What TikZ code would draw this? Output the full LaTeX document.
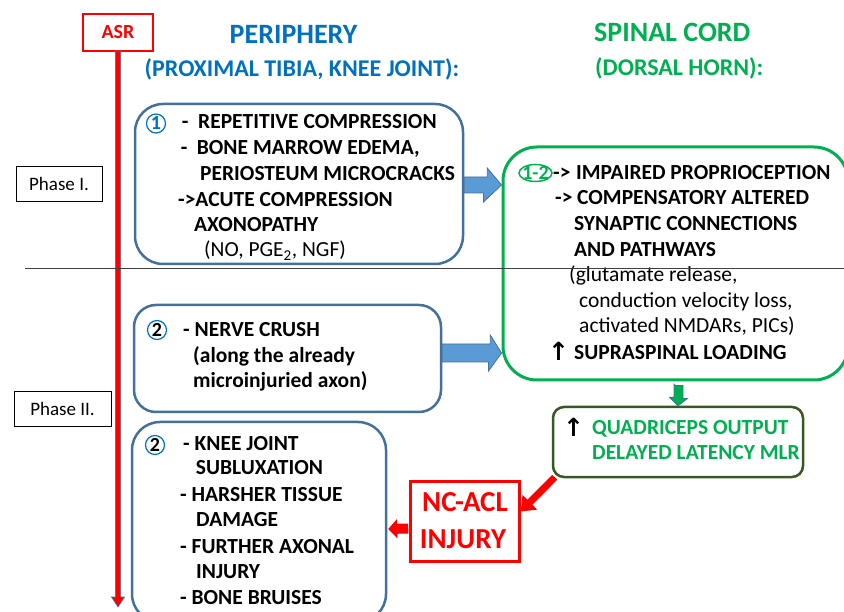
\documentclass[tikz,border=0pt]{standalone}
\usepackage{fontspec}
\setmainfont{Carlito}
\newfontfamily\symfont{DejaVu Sans}
\usetikzlibrary{arrows.meta,calc}
\definecolor{tblue}{HTML}{0070C0}
\definecolor{tgreen}{HTML}{00B050}
\definecolor{bstroke}{HTML}{41719C}
\definecolor{afill}{HTML}{5B9BD5}
\definecolor{olive}{HTML}{385723}
\definecolor{gline}{HTML}{404040}
\begin{document}
\begin{tikzpicture}[x=1pt,y=-1pt,
  tb/.style={anchor=base west, inner sep=0pt, font=\fontsize{21.5}{24}\selectfont\bfseries},
  tr/.style={anchor=base west, inner sep=0pt, font=\fontsize{21.5}{24}\selectfont},
  upar/.style={anchor=base west, inner sep=0pt, font=\fontsize{25}{28}\symfont\bfseries},
  pbox/.style={draw=bstroke, line width=2.5pt, rounded corners=#1},
  pbox/.default=28pt,
  phasebox/.style={draw=black, line width=0.8pt, fill=white},
  barrow/.style={fill=afill, draw=bstroke, line width=0.8pt},
  numc/.style={circle, draw=tblue, line width=1.2pt, inner sep=0pt, minimum size=19pt, font=\fontsize{20}{22}\selectfont\bfseries}
]
\useasboundingbox (0,0) rectangle (844,612);

% phase divider
\draw[gline, line width=1.2pt] (25,268.5) coordinate (hl) -- (844,268.5) coordinate (hr);

% ASR box and time arrow
\node[draw=red, line width=2.5pt, minimum width=70pt, minimum height=37pt, inner sep=0pt,
      text=red, font=\fontsize{20}{24}\selectfont\bfseries] (asr) at (118,32.5) {ASR};
\draw[fill=red, draw=bstroke, line width=0.6pt]
  (115.3,51) -- (120.7,51) -- (120.7,597) -- (124.5,597) -- (118,607) -- (111.5,597) -- (115.3,597) -- cycle;

% titles
\node[anchor=base west, inner sep=0pt, text=tblue, font=\fontsize{28}{30}\selectfont\bfseries] (tper) at (229.5,43.5) {PERIPHERY};
\node[anchor=base west, inner sep=0pt, text=tblue, font=\fontsize{24}{26}\selectfont\bfseries] (tper2) at (144.5,76.5) {(PROXIMAL TIBIA, KNEE JOINT):};
\node[anchor=base west, inner sep=0pt, text=tgreen, font=\fontsize{28}{30}\selectfont\bfseries] (tsc) at (594,42) {SPINAL CORD};
\node[anchor=base west, inner sep=0pt, text=tgreen, font=\fontsize{24}{26}\selectfont\bfseries] (tsc2) at (595,75.5) {(DORSAL HORN):};

% phase labels
\node[phasebox, minimum width=86pt, minimum height=35pt, inner sep=0pt, font=\fontsize{19}{22}\selectfont] (ph1) at (59,184) {Phase I.};
\node[phasebox, minimum width=97pt, minimum height=35pt, inner sep=0pt, font=\fontsize{19}{22}\selectfont] (ph2) at (62.5,409) {Phase II.};

% box 1
\node[pbox, minimum width=328pt, minimum height=160pt] (b1) at (299,184) {};
\node[numc, text=tblue] (n1) at (156,123.5) {1};
\node[tb] at (181.7,129) {-};
\node[tb] at (198,129) {REPETITIVE COMPRESSION};
\node[tb] at (180.7,155) {-};
\node[tb] at (196.7,155) {BONE MARROW EDEMA,};
\node[tb] at (200,181) {PERIOSTEUM MICROCRACKS};
\node[tb] at (178,207) {->ACUTE COMPRESSION};
\node[tb] at (194,232) {AXONOPATHY};
\node[tr] at (204,257) {(NO, PGE\textsubscript{2}, NGF)};

% spinal cord box
\node[draw=tgreen, line width=3pt, rounded corners=34pt, minimum width=345pt, minimum height=233pt] (sc) at (675.5,263.5) {};
\draw[tgreen, line width=1.5pt] (535.5,173) ellipse [x radius=16.5, y radius=8.5];
\node[anchor=base, inner sep=0pt, text=tgreen, font=\fontsize{20}{22}\selectfont\bfseries] (n12) at (535.5,179.3) {1-2};
\node[tb] at (553,179.3) {->};
\node[tb] at (576,179.3) {IMPAIRED PROPRIOCEPTION};
\node[tb] at (555,205) {->};
\node[tb] at (577,205) {COMPENSATORY ALTERED};
\node[tb] at (574,230.5) {SYNAPTIC CONNECTIONS};
\node[tb] at (574,256.5) {AND PATHWAYS};
\node[tr] at (569,281.7) {(glutamate release,};
\node[tr] at (579,308) {conduction velocity loss,};
\node[tr] at (579,333) {activated NMDARs, PICs)};
\node[upar] at (548,361) {↑};
\node[tb] at (574,360) {SUPRASPINAL LOADING};

% redraw divider over green box
\draw[gline, line width=1.2pt] (hl) -- (hr);

% box 2a
\node[pbox=22pt, minimum width=307pt, minimum height=107pt] (b2a) at (287.5,358.5) {};
\node[numc, text=black] (n2a) at (157,330) {2};
\node[tb] at (183,336.7) {- NERVE CRUSH};
\node[tb] at (193,363) {(along the already};
\node[tb] at (193,388) {microinjuried axon)};

% box 2b
\node[pbox, minimum width=254pt, minimum height=200pt] (b2b) at (259,522) {};
\node[numc, text=black] (n2b) at (155,445) {2};
\node[tb] at (183,450) {- KNEE JOINT};
\node[tb] at (195.7,475) {SUBLUXATION};
\node[tb] at (180,501.7) {- HARSHER TISSUE};
\node[tb] at (196,526.7) {DAMAGE};
\node[tb] at (180,553) {- FURTHER AXONAL};
\node[tb] at (196,578) {INJURY};
\node[tb] at (180,604) {- BONE BRUISES};

% quadriceps box
\node[draw=olive, line width=2.5pt, rounded corners=11pt, minimum width=250pt, minimum height=70pt] (q) at (678,442) {};
\node[upar] at (563,437) {↑};
\node[tb, text=tgreen] at (592,435) {QUADRICEPS OUTPUT};
\node[tb, text=tgreen] at (592,460) {DELAYED LATENCY MLR};

% NC-ACL box
\node[draw=red, line width=2.5pt, minimum width=109pt, minimum height=80pt, inner sep=0pt] (acl) at (465,521.5) {};
\node[anchor=base, inner sep=0pt, text=red, font=\fontsize{29}{32}\selectfont\bfseries] at (465,511.7) {NC-ACL};
\node[anchor=base, inner sep=0pt, text=red, font=\fontsize{29}{32}\selectfont\bfseries] at (463,548.3) {INJURY};

% block arrows
\draw[barrow] ($(b1.east)+(0,-7)$) -- ++(23,0) -- ++(0,-9) -- ($(sc.west)+(0,-78.5)$) -- ++(-18,17) -- ++(0,-9) -- ($(b1.east)+(0,9)$) -- cycle;
\draw[barrow] ($(b2a.east)+(0,-14.5)$) -- ++(48,0) -- ++(0,-9) -- ($(sc.west)+(0,89.5)$) -- ++(-13,18) -- ++(0,-9) -- ($(b2a.east)+(0,3.5)$) -- cycle;
% green down arrow
\draw[fill=tgreen, draw=bstroke, line width=0.8pt]
  ($(sc.south)+(-0.5,4)$) -- ++(8,0) -- ++(0,13) -- ++(4.5,0) -- (q.north) -- ++(-8.5,-8.5) -- ++(4.5,0) -- ++(0,-13) -- cycle;
% red arrows
\draw[red, line width=7pt, -{Triangle[length=13pt,width=20pt]}] ($(q.south west)+(3,-1)$) -- ($(acl.east)+(0,-10)$);
\draw[red, line width=10pt, -{Triangle[length=9pt,width=19pt]}] ($(acl.west)+(-1,7)$) -- ($(b2b.east)+(1,7)$);
\end{tikzpicture}
\end{document}
